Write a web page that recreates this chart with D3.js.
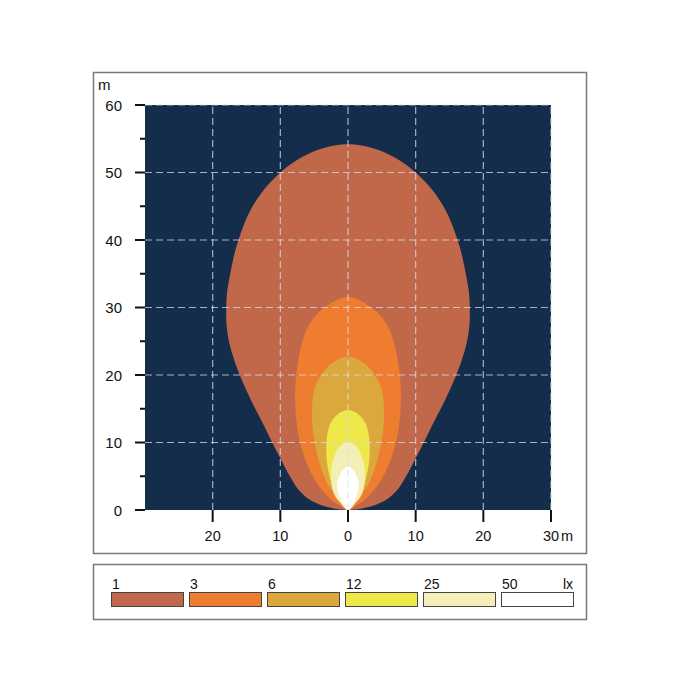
<!DOCTYPE html>
<html>
<head>
<meta charset="utf-8">
<script src="https://cdn.jsdelivr.net/npm/d3@7"></script>
<style>
  html, body { margin: 0; padding: 0; background: #fff; }
  svg { display: block; font-family: "Liberation Sans", Arial, sans-serif; }
</style>
</head>
<body>
<svg id="chart" width="700" height="700"></svg>
<script>
// ---------- data ----------
const levels = [1, 3, 6, 12, 25, 50];
const levelLabels = ["1", "3", "6", "12", "25", "50"];
const levelColors = ["#c2684a", "#ee7d30", "#dba83e", "#eee84a", "#f3efb6", "#ffffff"];
const unitLabel = "lx";

// isolux outlines: [distance ahead (m), half width (m)]
const outline1 = [[0,0],[0.5,3.2],[1.5,5.6],[3,7.3],[5,8.6],[7.5,9.9],[10,11.2],[12.5,12.4],[15,13.7],[17.5,14.9],[20,16.0],[22.5,16.9],[25,17.6],[27.5,17.95],[30,18.0],[32.5,17.85],[35,17.4],[37.5,16.9],[40,16.2],[42.5,15.3],[45,14.1],[47.5,12.4],[50,10.0],[52,7.3],[53.3,4.6],[54,2.0],[54.2,0]];
const outline3 = [[0,0],[0.7,1.3],[2,3.0],[4,4.6],[6,5.7],[8,6.5],[10.5,7.2],[13,7.6],[15.5,7.8],[18,7.8],[20.5,7.6],[23,7.2],[25.5,6.6],[27.5,5.7],[29.3,4.3],[30.6,2.6],[31.3,1.2],[31.6,0]];
const outline6 = [[0,0],[1,1.0],[2.5,2.1],[4,3.1],[6,3.9],[8,4.5],[10.5,5.0],[13,5.3],[15.5,5.3],[17.8,5.0],[19.5,4.3],[21,3.2],[22.1,1.8],[22.7,0]];
const outline12 = [[0,0],[1,0.9],[2.5,1.9],[4.5,2.6],[7,3.1],[9.5,3.2],[11.5,3.0],[13,2.5],[14.2,1.5],[14.8,0]];
const outline25 = [[0,0],[1,1.1],[2.5,2.1],[4.5,2.5],[6.5,2.4],[8,2.0],[9.3,1.3],[10.1,0]];
const outline50 = [[0,0],[1.2,0.9],[2.5,1.4],[3.8,1.6],[5.0,1.3],[5.9,0.8],[6.4,0]];
const outlines = [outline1, outline3, outline6, outline12, outline25, outline50];

const xTicks = [-20, -10, 0, 10, 20, 30];
const xTickLabels = ["20", "10", "0", "10", "20", "30"];
const yTicks = [0, 10, 20, 30, 40, 50, 60];
const yMinorTicks = [5, 15, 25, 35, 45, 55];
const axisUnit = "m";

// ---------- layout ----------
const svg = d3.select("#chart");
const plot = { left: 145, right: 551, top: 105, bottom: 510 };
const x = d3.scaleLinear().domain([-30, 30]).range([plot.left, plot.right]);
const y = d3.scaleLinear().domain([0, 60]).range([plot.bottom, plot.top]);

// frames
svg.append("rect").attr("x", 93.5).attr("y", 72.5).attr("width", 493).attr("height", 481)
  .attr("fill", "none").attr("stroke", "#7a7a7a").attr("stroke-width", 1.5);
svg.append("rect").attr("x", 93.5).attr("y", 564.5).attr("width", 493).attr("height", 55)
  .attr("fill", "none").attr("stroke", "#7a7a7a").attr("stroke-width", 1.5);

// background
svg.append("rect").attr("x", plot.left).attr("y", plot.top)
  .attr("width", plot.right - plot.left).attr("height", plot.bottom - plot.top)
  .attr("fill", "#132d4b");

// contours
const line = d3.line().x(d => x(d[0])).y(d => y(d[1])).curve(d3.curveCatmullRomClosed.alpha(0.5));
outlines.forEach((o, i) => {
  const right = o.map(p => [p[1], p[0]]);
  const left = o.slice(1, -1).reverse().map(p => [-p[1], p[0]]);
  svg.append("path").attr("d", line(right.concat(left)))
    .attr("fill", levelColors[i]).attr("stroke", "none");
});

// grid
const grid = svg.append("g").attr("stroke", "rgba(215,222,235,0.75)").attr("stroke-width", 1.2)
  .attr("stroke-dasharray", "7,4");
xTicks.forEach(t => grid.append("line").attr("x1", x(t)).attr("x2", x(t))
  .attr("y1", plot.bottom).attr("y2", plot.top));
yTicks.filter(t => t > 0).forEach(t => grid.append("line").attr("x1", plot.left).attr("x2", plot.right)
  .attr("y1", y(t)).attr("y2", y(t)));

// y axis
const yAxis = svg.append("g");
yTicks.forEach(t => {
  yAxis.append("line").attr("x1", plot.left - 10).attr("x2", plot.left).attr("y1", y(t)).attr("y2", y(t))
    .attr("stroke", "#111").attr("stroke-width", 2);
  yAxis.append("text").attr("x", 122).attr("y", y(t) + 5.5).attr("text-anchor", "end")
    .attr("font-size", 15).attr("fill", "#111").text(t);
});
yMinorTicks.forEach(t => {
  yAxis.append("line").attr("x1", plot.left - 5).attr("x2", plot.left).attr("y1", y(t)).attr("y2", y(t))
    .attr("stroke", "#111").attr("stroke-width", 2);
});
svg.append("text").attr("x", 98).attr("y", 90).attr("font-size", 15).attr("fill", "#111").text(axisUnit);

// x axis
xTicks.forEach((t, i) => {
  svg.append("line").attr("x1", x(t)).attr("x2", x(t)).attr("y1", plot.bottom).attr("y2", plot.bottom + 12)
    .attr("stroke", "#111").attr("stroke-width", 2);
  svg.append("text").attr("x", x(t)).attr("y", 541).attr("text-anchor", "middle")
    .attr("font-size", 14.5).attr("fill", "#111").text(xTickLabels[i]);
});
svg.append("text").attr("x", 561).attr("y", 541).attr("font-size", 14.5).attr("fill", "#111").text(axisUnit);

// legend
const lx0 = 111, lw = 72, lstep = 78;
levels.forEach((lv, i) => {
  const lxp = lx0 + i * lstep;
  svg.append("rect").attr("x", lxp + 0.5).attr("y", 592.5).attr("width", lw).attr("height", 14)
    .attr("fill", levelColors[i]).attr("stroke", "#444").attr("stroke-width", 1);
  svg.append("text").attr("x", lxp + 1).attr("y", 589).attr("font-size", 14).attr("fill", "#111")
    .text(levelLabels[i]);
});
svg.append("text").attr("x", 573).attr("y", 589).attr("text-anchor", "end")
  .attr("font-size", 14).attr("fill", "#111").text(unitLabel);
</script>
</body>
</html>
